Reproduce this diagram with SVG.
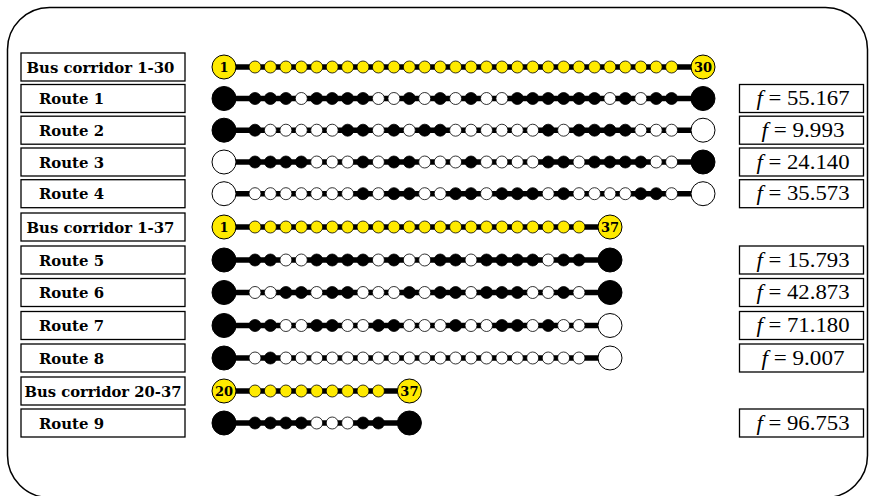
<svg xmlns="http://www.w3.org/2000/svg" width="869" height="496" viewBox="0 0 869 496">
<style>
.frame{fill:#fff;stroke:#000;stroke-width:1.5}
.box{fill:#fff;stroke:#000;stroke-width:1.3}
.lbl{font-family:"DejaVu Serif","Liberation Serif",serif;font-weight:bold;font-size:14px}
.fv{font-family:"Liberation Serif",serif;font-size:20px;text-anchor:middle}
.bar{stroke:#000;stroke-width:5.5;fill:none}
.num{font-family:"DejaVu Serif","Liberation Serif",serif;font-weight:bold;font-size:13px;text-anchor:middle}
</style>
<defs>
<circle id="b" r="6" fill="#000" stroke="#000" stroke-width="0.8"/>
<circle id="w" r="6" fill="#fff" stroke="#000" stroke-width="0.8"/>
<circle id="y" r="6" fill="#ffea00" stroke="#000" stroke-width="0.8"/>
<circle id="B" r="12" fill="#000" stroke="#000" stroke-width="1"/>
<circle id="W" r="12" fill="#fff" stroke="#000" stroke-width="1"/>
<circle id="Y" r="12" fill="#ffea00" stroke="#000" stroke-width="1"/>
</defs>
<rect class="frame" x="7.5" y="7.5" width="860" height="490" rx="42"/>

<g id="connectors">
<line class="bar" x1="224" y1="67" x2="703" y2="67"/>
<line class="bar" x1="224" y1="98.5" x2="703" y2="98.5"/>
<line class="bar" x1="224" y1="130.2" x2="703" y2="130.2"/>
<line class="bar" x1="224" y1="162" x2="703" y2="162"/>
<line class="bar" x1="224" y1="193.7" x2="703" y2="193.7"/>
<line class="bar" x1="224" y1="227" x2="610" y2="227"/>
<line class="bar" x1="224" y1="260" x2="610" y2="260"/>
<line class="bar" x1="224" y1="292.5" x2="610" y2="292.5"/>
<line class="bar" x1="224" y1="325.5" x2="610" y2="325.5"/>
<line class="bar" x1="224" y1="358" x2="610" y2="358"/>
<line class="bar" x1="224" y1="391" x2="409.4" y2="391"/>
<line class="bar" x1="224" y1="423" x2="409.4" y2="423"/>
</g>

<g id="labels">
<g id="lbl-c1"><rect class="box" x="21" y="53" width="164" height="28"/><text class="lbl" x="26.5" y="72.5" textLength="148" lengthAdjust="spacingAndGlyphs">Bus corridor 1-30</text></g>
<g id="lbl-r1"><rect class="box" x="21" y="84.5" width="164" height="28"/><text class="lbl" x="39" y="104" textLength="65" lengthAdjust="spacingAndGlyphs">Route 1</text></g>
<g id="lbl-r2"><rect class="box" x="21" y="116.2" width="164" height="28"/><text class="lbl" x="39" y="135.7" textLength="65" lengthAdjust="spacingAndGlyphs">Route 2</text></g>
<g id="lbl-r3"><rect class="box" x="21" y="148" width="164" height="28"/><text class="lbl" x="39" y="167.5" textLength="65" lengthAdjust="spacingAndGlyphs">Route 3</text></g>
<g id="lbl-r4"><rect class="box" x="21" y="179.7" width="164" height="28"/><text class="lbl" x="39" y="199.2" textLength="65" lengthAdjust="spacingAndGlyphs">Route 4</text></g>
<g id="lbl-c2"><rect class="box" x="21" y="213" width="164" height="28"/><text class="lbl" x="26.5" y="232.5" textLength="148" lengthAdjust="spacingAndGlyphs">Bus corridor 1-37</text></g>
<g id="lbl-r5"><rect class="box" x="21" y="246" width="164" height="28"/><text class="lbl" x="39" y="265.5" textLength="65" lengthAdjust="spacingAndGlyphs">Route 5</text></g>
<g id="lbl-r6"><rect class="box" x="21" y="278.5" width="164" height="28"/><text class="lbl" x="39" y="298" textLength="65" lengthAdjust="spacingAndGlyphs">Route 6</text></g>
<g id="lbl-r7"><rect class="box" x="21" y="311.5" width="164" height="28"/><text class="lbl" x="39" y="331" textLength="65" lengthAdjust="spacingAndGlyphs">Route 7</text></g>
<g id="lbl-r8"><rect class="box" x="21" y="344" width="164" height="28"/><text class="lbl" x="39" y="363.5" textLength="65" lengthAdjust="spacingAndGlyphs">Route 8</text></g>
<g id="lbl-c3"><rect class="box" x="21" y="377" width="164" height="28"/><text class="lbl" x="24.5" y="396.5" textLength="157" lengthAdjust="spacingAndGlyphs">Bus corridor 20-37</text></g>
<g id="lbl-r9"><rect class="box" x="21" y="409" width="164" height="28"/><text class="lbl" x="39" y="428.5" textLength="65" lengthAdjust="spacingAndGlyphs">Route 9</text></g>
</g>

<g id="fvalues">
<g id="f-r1"><rect class="box" x="739.5" y="84.5" width="124" height="28"/><text class="fv" x="803" y="105" textLength="93" lengthAdjust="spacingAndGlyphs"><tspan font-style="italic">f</tspan> = 55.167</text></g>
<g id="f-r2"><rect class="box" x="739.5" y="116.2" width="124" height="28"/><text class="fv" x="803" y="136.7" textLength="83" lengthAdjust="spacingAndGlyphs"><tspan font-style="italic">f</tspan> = 9.993</text></g>
<g id="f-r3"><rect class="box" x="739.5" y="148" width="124" height="28"/><text class="fv" x="803" y="168.5" textLength="93" lengthAdjust="spacingAndGlyphs"><tspan font-style="italic">f</tspan> = 24.140</text></g>
<g id="f-r4"><rect class="box" x="739.5" y="179.7" width="124" height="28"/><text class="fv" x="803" y="200.2" textLength="93" lengthAdjust="spacingAndGlyphs"><tspan font-style="italic">f</tspan> = 35.573</text></g>
<g id="f-r5"><rect class="box" x="739.5" y="246" width="124" height="28"/><text class="fv" x="803" y="266.5" textLength="93" lengthAdjust="spacingAndGlyphs"><tspan font-style="italic">f</tspan> = 15.793</text></g>
<g id="f-r6"><rect class="box" x="739.5" y="278.5" width="124" height="28"/><text class="fv" x="803" y="299" textLength="93" lengthAdjust="spacingAndGlyphs"><tspan font-style="italic">f</tspan> = 42.873</text></g>
<g id="f-r7"><rect class="box" x="739.5" y="311.5" width="124" height="28"/><text class="fv" x="803" y="332" textLength="93" lengthAdjust="spacingAndGlyphs"><tspan font-style="italic">f</tspan> = 71.180</text></g>
<g id="f-r8"><rect class="box" x="739.5" y="344" width="124" height="28"/><text class="fv" x="803" y="364.5" textLength="83" lengthAdjust="spacingAndGlyphs"><tspan font-style="italic">f</tspan> = 9.007</text></g>
<g id="f-r9"><rect class="box" x="739.5" y="409" width="124" height="28"/><text class="fv" x="803" y="429.5" textLength="93" lengthAdjust="spacingAndGlyphs"><tspan font-style="italic">f</tspan> = 96.753</text></g>
</g>

<g id="corridor-1-30" transform="translate(0,67)">
<use href="#Y" x="224"/><use href="#y" x="255"/><use href="#y" x="270.4"/><use href="#y" x="285.9"/><use href="#y" x="301.3"/><use href="#y" x="316.7"/><use href="#y" x="332.2"/><use href="#y" x="347.6"/><use href="#y" x="363"/><use href="#y" x="378.4"/><use href="#y" x="393.9"/><use href="#y" x="409.3"/><use href="#y" x="424.7"/><use href="#y" x="440.2"/><use href="#y" x="455.6"/><use href="#y" x="471"/><use href="#y" x="486.5"/><use href="#y" x="501.9"/><use href="#y" x="517.3"/><use href="#y" x="532.7"/><use href="#y" x="548.2"/><use href="#y" x="563.6"/><use href="#y" x="579"/><use href="#y" x="594.5"/><use href="#y" x="609.9"/><use href="#y" x="625.3"/><use href="#y" x="640.8"/><use href="#y" x="656.2"/><use href="#y" x="671.6"/><use href="#Y" x="703"/>
<text class="num" x="224" y="4.7">1</text><text class="num" x="703" y="4.7">30</text>
</g>
<g id="route-1" transform="translate(0,98.5)">
<use href="#B" x="224"/><use href="#b" x="255"/><use href="#b" x="270.4"/><use href="#b" x="285.9"/><use href="#w" x="301.3"/><use href="#b" x="316.7"/><use href="#b" x="332.2"/><use href="#b" x="347.6"/><use href="#b" x="363"/><use href="#w" x="378.4"/><use href="#w" x="393.9"/><use href="#b" x="409.3"/><use href="#w" x="424.7"/><use href="#b" x="440.2"/><use href="#w" x="455.6"/><use href="#b" x="471"/><use href="#w" x="486.5"/><use href="#w" x="501.9"/><use href="#b" x="517.3"/><use href="#b" x="532.7"/><use href="#b" x="548.2"/><use href="#b" x="563.6"/><use href="#b" x="579"/><use href="#b" x="594.5"/><use href="#w" x="609.9"/><use href="#b" x="625.3"/><use href="#w" x="640.8"/><use href="#b" x="656.2"/><use href="#b" x="671.6"/><use href="#B" x="703"/>
</g>
<g id="route-2" transform="translate(0,130.2)">
<use href="#B" x="224"/><use href="#b" x="255"/><use href="#w" x="270.4"/><use href="#w" x="285.9"/><use href="#w" x="301.3"/><use href="#w" x="316.7"/><use href="#w" x="332.2"/><use href="#b" x="347.6"/><use href="#b" x="363"/><use href="#w" x="378.4"/><use href="#b" x="393.9"/><use href="#w" x="409.3"/><use href="#b" x="424.7"/><use href="#b" x="440.2"/><use href="#w" x="455.6"/><use href="#w" x="471"/><use href="#w" x="486.5"/><use href="#w" x="501.9"/><use href="#w" x="517.3"/><use href="#w" x="532.7"/><use href="#b" x="548.2"/><use href="#w" x="563.6"/><use href="#b" x="579"/><use href="#b" x="594.5"/><use href="#b" x="609.9"/><use href="#b" x="625.3"/><use href="#w" x="640.8"/><use href="#w" x="656.2"/><use href="#w" x="671.6"/><use href="#W" x="703"/>
</g>
<g id="route-3" transform="translate(0,162)">
<use href="#W" x="224"/><use href="#b" x="255"/><use href="#b" x="270.4"/><use href="#b" x="285.9"/><use href="#b" x="301.3"/><use href="#w" x="316.7"/><use href="#w" x="332.2"/><use href="#w" x="347.6"/><use href="#b" x="363"/><use href="#w" x="378.4"/><use href="#b" x="393.9"/><use href="#b" x="409.3"/><use href="#w" x="424.7"/><use href="#w" x="440.2"/><use href="#w" x="455.6"/><use href="#b" x="471"/><use href="#w" x="486.5"/><use href="#w" x="501.9"/><use href="#w" x="517.3"/><use href="#w" x="532.7"/><use href="#b" x="548.2"/><use href="#b" x="563.6"/><use href="#w" x="579"/><use href="#b" x="594.5"/><use href="#b" x="609.9"/><use href="#b" x="625.3"/><use href="#b" x="640.8"/><use href="#w" x="656.2"/><use href="#w" x="671.6"/><use href="#B" x="703"/>
</g>
<g id="route-4" transform="translate(0,193.7)">
<use href="#W" x="224"/><use href="#w" x="255"/><use href="#w" x="270.4"/><use href="#w" x="285.9"/><use href="#w" x="301.3"/><use href="#w" x="316.7"/><use href="#w" x="332.2"/><use href="#w" x="347.6"/><use href="#b" x="363"/><use href="#w" x="378.4"/><use href="#b" x="393.9"/><use href="#b" x="409.3"/><use href="#w" x="424.7"/><use href="#w" x="440.2"/><use href="#b" x="455.6"/><use href="#b" x="471"/><use href="#w" x="486.5"/><use href="#b" x="501.9"/><use href="#b" x="517.3"/><use href="#b" x="532.7"/><use href="#w" x="548.2"/><use href="#b" x="563.6"/><use href="#w" x="579"/><use href="#w" x="594.5"/><use href="#w" x="609.9"/><use href="#w" x="625.3"/><use href="#b" x="640.8"/><use href="#b" x="656.2"/><use href="#w" x="671.6"/><use href="#W" x="703"/>
</g>
<g id="corridor-1-37" transform="translate(0,227)">
<use href="#Y" x="224"/><use href="#y" x="255"/><use href="#y" x="270.4"/><use href="#y" x="285.9"/><use href="#y" x="301.3"/><use href="#y" x="316.7"/><use href="#y" x="332.2"/><use href="#y" x="347.6"/><use href="#y" x="363"/><use href="#y" x="378.4"/><use href="#y" x="393.9"/><use href="#y" x="409.3"/><use href="#y" x="424.7"/><use href="#y" x="440.2"/><use href="#y" x="455.6"/><use href="#y" x="471"/><use href="#y" x="486.5"/><use href="#y" x="501.9"/><use href="#y" x="517.3"/><use href="#y" x="532.7"/><use href="#y" x="548.2"/><use href="#y" x="563.6"/><use href="#y" x="579"/><use href="#Y" x="610"/>
<text class="num" x="224" y="4.7">1</text><text class="num" x="610" y="4.7">37</text>
</g>
<g id="route-5" transform="translate(0,260)">
<use href="#B" x="224"/><use href="#b" x="255"/><use href="#b" x="270.4"/><use href="#w" x="285.9"/><use href="#w" x="301.3"/><use href="#b" x="316.7"/><use href="#b" x="332.2"/><use href="#b" x="347.6"/><use href="#b" x="363"/><use href="#w" x="378.4"/><use href="#b" x="393.9"/><use href="#w" x="409.3"/><use href="#w" x="424.7"/><use href="#b" x="440.2"/><use href="#b" x="455.6"/><use href="#w" x="471"/><use href="#b" x="486.5"/><use href="#b" x="501.9"/><use href="#b" x="517.3"/><use href="#b" x="532.7"/><use href="#w" x="548.2"/><use href="#b" x="563.6"/><use href="#b" x="579"/><use href="#B" x="610"/>
</g>
<g id="route-6" transform="translate(0,292.5)">
<use href="#B" x="224"/><use href="#w" x="255"/><use href="#w" x="270.4"/><use href="#b" x="285.9"/><use href="#b" x="301.3"/><use href="#w" x="316.7"/><use href="#b" x="332.2"/><use href="#b" x="347.6"/><use href="#w" x="363"/><use href="#w" x="378.4"/><use href="#w" x="393.9"/><use href="#b" x="409.3"/><use href="#w" x="424.7"/><use href="#b" x="440.2"/><use href="#b" x="455.6"/><use href="#w" x="471"/><use href="#b" x="486.5"/><use href="#b" x="501.9"/><use href="#b" x="517.3"/><use href="#w" x="532.7"/><use href="#w" x="548.2"/><use href="#b" x="563.6"/><use href="#w" x="579"/><use href="#B" x="610"/>
</g>
<g id="route-7" transform="translate(0,325.5)">
<use href="#B" x="224"/><use href="#b" x="255"/><use href="#b" x="270.4"/><use href="#w" x="285.9"/><use href="#w" x="301.3"/><use href="#b" x="316.7"/><use href="#b" x="332.2"/><use href="#w" x="347.6"/><use href="#w" x="363"/><use href="#b" x="378.4"/><use href="#b" x="393.9"/><use href="#w" x="409.3"/><use href="#w" x="424.7"/><use href="#w" x="440.2"/><use href="#b" x="455.6"/><use href="#w" x="471"/><use href="#w" x="486.5"/><use href="#b" x="501.9"/><use href="#b" x="517.3"/><use href="#w" x="532.7"/><use href="#b" x="548.2"/><use href="#w" x="563.6"/><use href="#w" x="579"/><use href="#W" x="610"/>
</g>
<g id="route-8" transform="translate(0,358)">
<use href="#B" x="224"/><use href="#w" x="255"/><use href="#b" x="270.4"/><use href="#w" x="285.9"/><use href="#w" x="301.3"/><use href="#w" x="316.7"/><use href="#w" x="332.2"/><use href="#w" x="347.6"/><use href="#w" x="363"/><use href="#w" x="378.4"/><use href="#w" x="393.9"/><use href="#w" x="409.3"/><use href="#w" x="424.7"/><use href="#w" x="440.2"/><use href="#w" x="455.6"/><use href="#w" x="471"/><use href="#w" x="486.5"/><use href="#w" x="501.9"/><use href="#w" x="517.3"/><use href="#w" x="532.7"/><use href="#w" x="548.2"/><use href="#w" x="563.6"/><use href="#w" x="579"/><use href="#W" x="610"/>
</g>
<g id="corridor-20-37" transform="translate(0,391)">
<use href="#Y" x="224"/><use href="#y" x="255"/><use href="#y" x="270.4"/><use href="#y" x="285.9"/><use href="#y" x="301.3"/><use href="#y" x="316.7"/><use href="#y" x="332.2"/><use href="#y" x="347.6"/><use href="#y" x="363"/><use href="#y" x="378.4"/><use href="#Y" x="409.4"/>
<text class="num" x="224" y="4.7">20</text><text class="num" x="409.4" y="4.7">37</text>
</g>
<g id="route-9" transform="translate(0,423)">
<use href="#B" x="224"/><use href="#b" x="255"/><use href="#b" x="270.4"/><use href="#b" x="285.9"/><use href="#b" x="301.3"/><use href="#w" x="316.7"/><use href="#w" x="332.2"/><use href="#w" x="347.6"/><use href="#b" x="363"/><use href="#b" x="378.4"/><use href="#B" x="409.4"/>
</g>
</svg>
